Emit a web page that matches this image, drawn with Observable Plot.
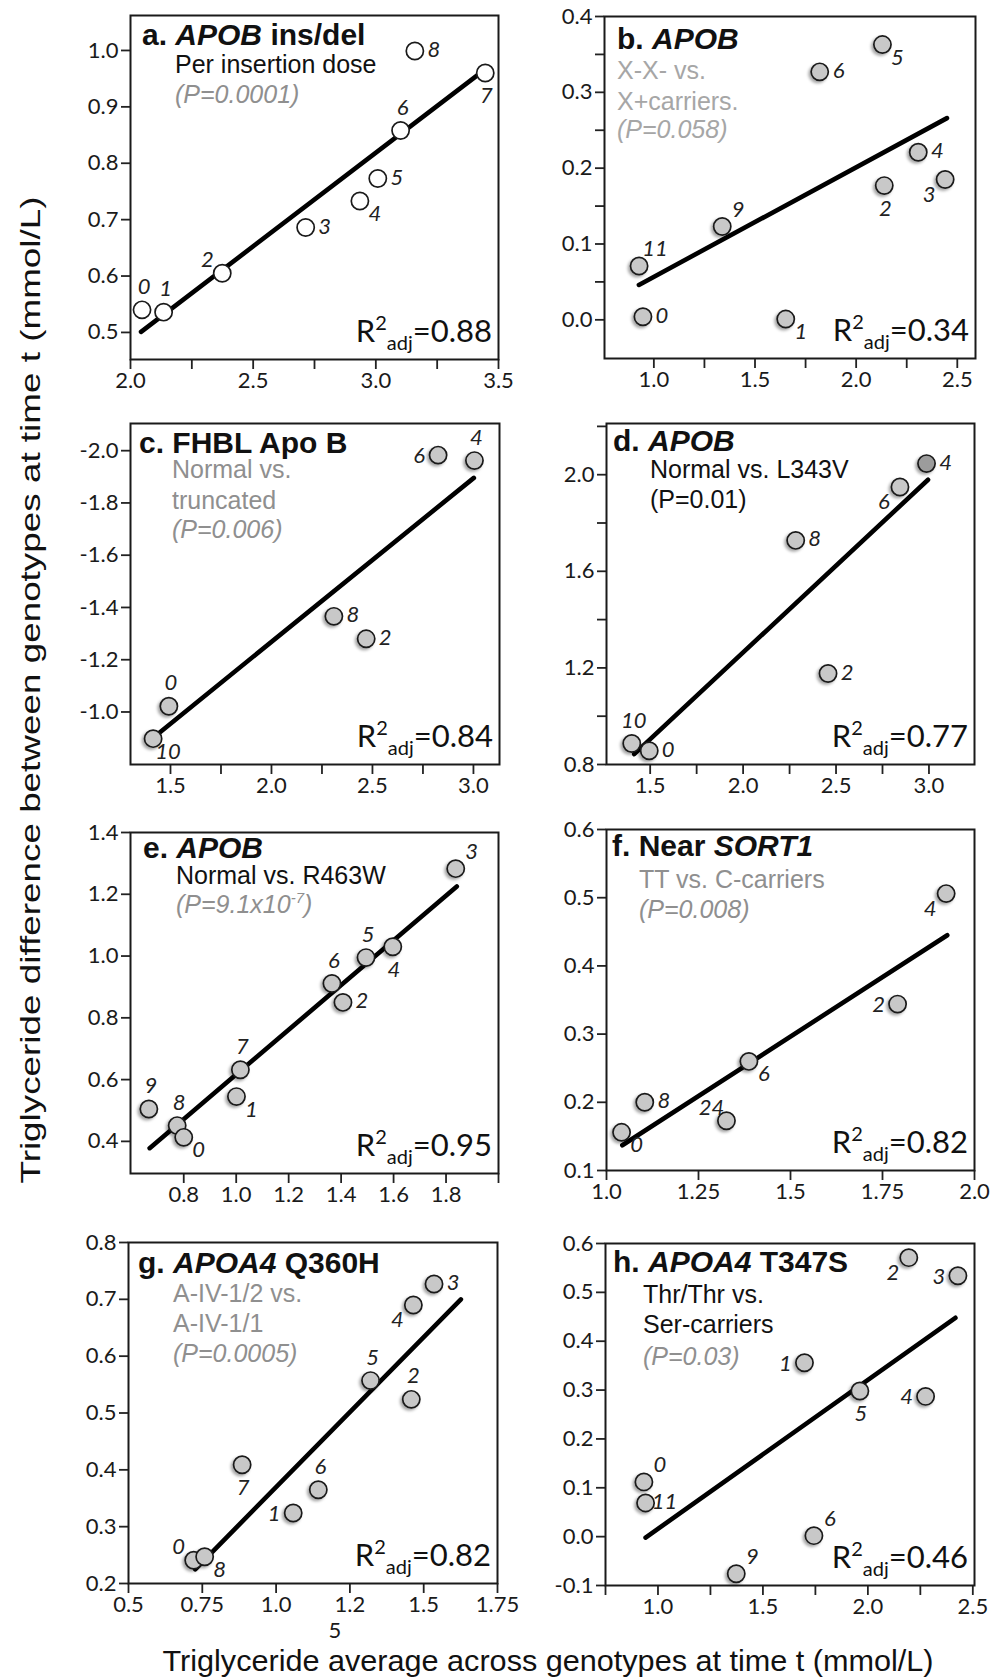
<!DOCTYPE html>
<html>
<head>
<meta charset="utf-8">
<script src="https://cdn.jsdelivr.net/npm/d3@7"></script>
<script src="https://cdn.jsdelivr.net/npm/@observablehq/plot@0.6"></script>
<style>
  html, body { margin: 0; padding: 0; background: #fff; }
  #fig { position: relative; width: 1005px; height: 1678px; overflow: hidden; background: #fff; }
  #fig svg { position: absolute; overflow: visible; }
</style>
</head>
<body>
<div id="fig"></div>
<script>
// ---------------- Data: genotype groups per panel ----------------
// a. APOB ins/del
const idsA = ["0", "1", "2", "3", "4", "5", "6", "7", "8"];
const avgA = [2.047, 2.135, 2.374, 2.714, 2.935, 3.008, 3.101, 3.446, 3.159];
const diffA = [0.540, 0.536, 0.605, 0.686, 0.733, 0.773, 0.858, 0.960, 0.999];
const fitAvgA = [2.043, 3.432];
const fitDiffA = [0.501, 0.962];

// b. APOB X-X- vs. X+ carriers
const idsB = ["0", "1", "2", "3", "4", "5", "6", "9", "11"];
const avgB = [0.946, 1.652, 2.139, 2.440, 2.307, 2.130, 1.820, 1.338, 0.927];
const diffB = [0.004, 0.001, 0.177, 0.185, 0.221, 0.363, 0.327, 0.123, 0.071];
const fitAvgB = [0.926, 2.449];
const fitDiffB = [0.046, 0.266];

// c. FHBL Apo B
const idsC = ["0", "10", "8", "2", "6", "4"];
const avgC = [1.492, 1.414, 2.309, 2.469, 2.825, 3.005];
const diffC = [-1.022, -0.898, -1.366, -1.280, -1.983, -1.962];
const fitAvgC = [1.439, 3.002];
const fitDiffC = [-0.917, -1.896];

// d. APOB L343V
const idsD = ["10", "0", "8", "2", "6", "4"];
const avgD = [1.401, 1.495, 2.283, 2.457, 2.844, 2.987];
const diffD = [0.887, 0.857, 1.728, 1.177, 1.949, 2.046];
const fitAvgD = [1.414, 2.995];
const fitDiffD = [0.843, 1.979];

// e. APOB R463W
const idsE = ["9", "8", "0", "1", "7", "6", "2", "5", "4", "3"];
const avgE = [0.667, 0.775, 0.800, 1.001, 1.016, 1.365, 1.407, 1.495, 1.597, 1.837];
const diffE = [0.505, 0.451, 0.413, 0.545, 0.632, 0.911, 0.850, 0.995, 1.030, 1.283];
const fitAvgE = [0.670, 1.841];
const fitDiffE = [0.378, 1.225];

// f. Near SORT1
const idsF = ["0", "8", "24", "6", "2", "4"];
const avgF = [1.041, 1.104, 1.326, 1.387, 1.791, 1.923];
const diffF = [0.156, 0.200, 0.173, 0.260, 0.344, 0.506];
const fitAvgF = [1.043, 1.926];
const fitDiffF = [0.137, 0.445];

// g. APOA4 Q360H
const idsG = ["0", "8", "7", "1", "6", "5", "2", "4", "3"];
const avgG = [0.721, 0.758, 0.885, 1.058, 1.143, 1.320, 1.458, 1.465, 1.535];
const diffG = [0.241, 0.247, 0.409, 0.324, 0.365, 0.557, 0.524, 0.690, 0.727];
const fitAvgG = [0.726, 1.626];
const fitDiffG = [0.225, 0.700];

// h. APOA4 T347S
const idsH = ["0", "11", "9", "6", "1", "5", "4", "2", "3"];
const avgH = [0.933, 0.941, 1.373, 1.743, 1.698, 1.962, 2.275, 2.195, 2.429];
const diffH = [0.112, 0.069, -0.076, 0.002, 0.356, 0.298, 0.287, 0.571, 0.534];
const fitAvgH = [0.941, 2.417];
const fitDiffH = [-0.002, 0.448];

// Adjusted R² per panel (a–h)
const r2adj = ["0.88", "0.34", "0.84", "0.77", "0.95", "0.82", "0.82", "0.46"];

// ---------------- Tick values and labels ----------------
const xTicksA = [2.0, 2.5, 3.0, 3.5], xTickLabelsA = ["2.0", "2.5", "3.0", "3.5"], xMinorA = [2.25, 2.75, 3.25];
const yTicksA = [0.5, 0.6, 0.7, 0.8, 0.9, 1.0], yTickLabelsA = ["0.5", "0.6", "0.7", "0.8", "0.9", "1.0"];
const xTicksB = [1.0, 1.5, 2.0, 2.5], xTickLabelsB = ["1.0", "1.5", "2.0", "2.5"], xMinorB = [1.25, 1.75, 2.25];
const yTicksB = [0.0, 0.1, 0.2, 0.3, 0.4], yTickLabelsB = ["0.0", "0.1", "0.2", "0.3", "0.4"], yMinorB = [0.05, 0.15, 0.25, 0.35];
const xTicksC = [1.5, 2.0, 2.5, 3.0], xTickLabelsC = ["1.5", "2.0", "2.5", "3.0"], xMinorC = [1.75, 2.25, 2.75];
const yTicksC = [-1.0, -1.2, -1.4, -1.6, -1.8, -2.0], yTickLabelsC = ["-1.0", "-1.2", "-1.4", "-1.6", "-1.8", "-2.0"];
const xTicksD = [1.5, 2.0, 2.5, 3.0], xTickLabelsD = ["1.5", "2.0", "2.5", "3.0"], xMinorD = [1.75, 2.25, 2.75];
const yTicksD = [0.8, 1.2, 1.6, 2.0], yTickLabelsD = ["0.8", "1.2", "1.6", "2.0"], yMinorD = [1.0, 1.4, 1.8, 2.2];
const xTicksE = [0.8, 1.0, 1.2, 1.4, 1.6, 1.8], xTickLabelsE = ["0.8", "1.0", "1.2", "1.4", "1.6", "1.8"], xMinorE = [2.0];
const yTicksE = [0.4, 0.6, 0.8, 1.0, 1.2, 1.4], yTickLabelsE = ["0.4", "0.6", "0.8", "1.0", "1.2", "1.4"];
const xTicksF = [1.0, 1.25, 1.5, 1.75, 2.0], xTickLabelsF = ["1.0", "1.25", "1.5", "1.75", "2.0"];
const yTicksF = [0.1, 0.2, 0.3, 0.4, 0.5, 0.6], yTickLabelsF = ["0.1", "0.2", "0.3", "0.4", "0.5", "0.6"];
const xTicksG = [0.5, 0.75, 1.0, 1.25, 1.5, 1.75], xTickLabelsG = ["0.5", "0.75", "1.0", "1.2", "1.5", "1.75"];
const xWrapG = "5"; // second line of the wrapped "1.25" label
const yTicksG = [0.2, 0.3, 0.4, 0.5, 0.6, 0.7, 0.8], yTickLabelsG = ["0.2", "0.3", "0.4", "0.5", "0.6", "0.7", "0.8"];
const xTicksH = [1.0, 1.5, 2.0, 2.5], xTickLabelsH = ["1.0", "1.5", "2.0", "2.5"], xMinorH = [0.75, 1.25, 1.75, 2.25];
const yTicksH = [-0.1, 0.0, 0.1, 0.2, 0.3, 0.4, 0.5, 0.6], yTickLabelsH = ["-0.1", "0.0", "0.1", "0.2", "0.3", "0.4", "0.5", "0.6"];

// ---------------- Text ----------------
const yTitle = "Triglyceride difference between genotypes at time t (mmol/L)";
const xTitle = "Triglyceride average across genotypes at time t (mmol/L)";

// ---------------- Layout ----------------
const GRAY = "#8f8f8f";
const LIGHT = "#a6a6a6";
const DOT_GRAY = "#c8c8c8";

// where each genotype label sits relative to its dot
const offsets = {
  n: [2, -23], s: [1, 23], e: [19, -1], w: [-19, 1],
  ne: [16, -17], se: [15, 13], sw: [-16, 15], nw: [-15, -13]
};

const panels = [
  {
    frame: [130, 15, 498, 359], xDomain: [2.0, 3.5], yDomain: [0.452, 1.062],
    ids: idsA, x: avgA, y: diffA, fx: fitAvgA, fy: fitDiffA, fill: "#ffffff", shadow: false,
    place: ["n", "n", "nw", "e", "se", "e", "n", "s", "e"],
    xt: [xTicksA, xTickLabelsA], xm: xMinorA, yt: [yTicksA, yTickLabelsA], ym: [],
    title: [{t: "a. "}, {t: "APOB", i: true}, {t: " ins/del"}], tpos: [12, 30],
    sub: [[{t: "Per insertion dose"}], [{t: "(P=0.0001)", i: true, c: GRAY}]], sx: 45, sy: [58, 88],
    r2: r2adj[0]
  },
  {
    frame: [604, 16, 975, 358], xDomain: [0.756, 2.59], yDomain: [-0.051, 0.4],
    ids: idsB, x: avgB, y: diffB, fx: fitAvgB, fy: fitDiffB, fill: DOT_GRAY, shadow: true,
    place: ["e", "se", "s", "sw", "e", "se", "e", "ne", "ne"],
    xt: [xTicksB, xTickLabelsB], xm: xMinorB, yt: [yTicksB, yTickLabelsB], ym: yMinorB,
    title: [{t: "b. "}, {t: "APOB", i: true}], tpos: [13, 33],
    sub: [[{t: "X-X- vs.", c: LIGHT}], [{t: "X+carriers.", c: LIGHT}], [{t: "(P=0.058)", i: true, c: LIGHT}]], sx: 13, sy: [63, 94, 122],
    r2: r2adj[1]
  },
  {
    frame: [130, 423, 499, 764], xDomain: [1.302, 3.129], yDomain: [-0.799, -2.104],
    ids: idsC, x: avgC, y: diffC, fx: fitAvgC, fy: fitDiffC, fill: DOT_GRAY, shadow: true,
    place: ["n", "se", "e", "e", "w", "n"],
    xt: [xTicksC, xTickLabelsC], xm: xMinorC, yt: [yTicksC, yTickLabelsC], ym: [],
    title: [{t: "c. FHBL Apo B"}], tpos: [9, 30],
    sub: [[{t: "Normal vs.", c: GRAY}], [{t: "truncated", c: GRAY}], [{t: "(P=0.006)", i: true, c: GRAY}]], sx: 42, sy: [55, 86, 115],
    r2: r2adj[2]
  },
  {
    frame: [606, 423, 974, 764], xDomain: [1.265, 3.245], yDomain: [0.8, 2.212],
    ids: idsD, x: avgD, y: diffD, fx: fitAvgD, fy: fitDiffD, fill: DOT_GRAY, shadow: true,
    dark: "4",
    place: ["n", "e", "e", "e", "sw", "e"],
    xt: [xTicksD, xTickLabelsD], xm: xMinorD, yt: [yTicksD, yTickLabelsD], ym: yMinorD,
    title: [{t: "d. "}, {t: "APOB", i: true}], tpos: [7, 28],
    sub: [[{t: "Normal vs. L343V"}], [{t: "(P=0.01)"}]], sx: 44, sy: [55, 85],
    r2: r2adj[3]
  },
  {
    frame: [130, 832, 498, 1173], xDomain: [0.597, 2.0], yDomain: [0.296, 1.4],
    ids: idsE, x: avgE, y: diffE, fx: fitAvgE, fy: fitDiffE, fill: DOT_GRAY, shadow: true,
    place: ["n", "n", "se", "se", "n", "n", "e", "n", "s", "ne"],
    xt: [xTicksE, xTickLabelsE], xm: xMinorE, yt: [yTicksE, yTickLabelsE], ym: [],
    title: [{t: "e. "}, {t: "APOB", i: true}], tpos: [13, 26],
    sub: [[{t: "Normal vs. R463W"}], [{t: "(P=9.1x10", i: true, c: GRAY}, {t: "-7", i: true, c: GRAY, sup: true}, {t: ")", i: true, c: GRAY, unsup: true}]], sx: 46, sy: [52, 81],
    r2: r2adj[4]
  },
  {
    frame: [606, 829, 974, 1170], xDomain: [1.0, 2.0], yDomain: [0.1, 0.6],
    ids: idsF, x: avgF, y: diffF, fx: fitAvgF, fy: fitDiffF, fill: DOT_GRAY, shadow: true,
    place: ["se", "e", "nw", "se", "w", "sw"],
    xt: [xTicksF, xTickLabelsF], xm: [], yt: [yTicksF, yTickLabelsF], ym: [],
    title: [{t: "f. Near "}, {t: "SORT1", i: true}], tpos: [6, 27],
    sub: [[{t: "TT vs. C-carriers", c: GRAY}], [{t: "(P=0.008)", i: true, c: GRAY}]], sx: 33, sy: [59, 89],
    r2: r2adj[5]
  },
  {
    frame: [128, 1242, 497, 1583], xDomain: [0.5, 1.75], yDomain: [0.2, 0.8],
    ids: idsG, x: avgG, y: diffG, fx: fitAvgG, fy: fitDiffG, fill: DOT_GRAY, shadow: true,
    place: ["nw", "se", "s", "w", "n", "n", "n", "sw", "e"],
    xt: [xTicksG, xTickLabelsG], xm: [], yt: [yTicksG, yTickLabelsG], ym: [], wrap: true,
    title: [{t: "g. "}, {t: "APOA4", i: true}, {t: " Q360H"}], tpos: [10, 31],
    sub: [[{t: "A-IV-1/2 vs.", c: GRAY}], [{t: "A-IV-1/1", c: GRAY}], [{t: "(P=0.0005)", i: true, c: GRAY}]], sx: 45, sy: [60, 90, 120],
    r2: r2adj[6]
  },
  {
    frame: [605, 1243, 974, 1585], xDomain: [0.75, 2.508], yDomain: [-0.1, 0.6],
    ids: idsH, x: avgH, y: diffH, fx: fitAvgH, fy: fitDiffH, fill: DOT_GRAY, shadow: true,
    place: ["ne", "e", "ne", "ne", "w", "s", "w", "sw", "w"],
    xt: [xTicksH, xTickLabelsH], xm: xMinorH, yt: [yTicksH, yTickLabelsH], ym: [],
    title: [{t: "h. "}, {t: "APOA4", i: true}, {t: " T347S"}], tpos: [8, 29],
    sub: [[{t: "Thr/Thr vs."}], [{t: "Ser-carriers"}], [{t: "(P=0.03)", i: true, c: GRAY}]], sx: 38, sy: [60, 90, 122],
    r2: r2adj[7]
  }
];

const fig = document.getElementById("fig");
const HEAD = "'Liberation Sans', Arial, Helvetica, sans-serif";
const NUM = "Lato, 'Open Sans', sans-serif";

// axis titles shared by all panels
const overlay = d3.select(fig).append("svg")
  .attr("width", 1005).attr("height", 1678)
  .style("left", "0px").style("top", "0px");
overlay.append("text")
  .attr("transform", "translate(33,690) rotate(-90)")
  .attr("text-anchor", "middle").attr("dominant-baseline", "middle")
  .attr("font-family", "'Liberation Sans Narrow', 'Liberation Sans', Arial, sans-serif")
  .attr("font-size", 28).attr("fill", "#111")
  .attr("textLength", 987).attr("lengthAdjust", "spacingAndGlyphs")
  .text(yTitle);
overlay.append("text")
  .attr("x", 548).attr("y", 1671)
  .attr("text-anchor", "middle")
  .attr("font-family", HEAD)
  .attr("font-size", 29).attr("fill", "#111")
  .attr("textLength", 771).attr("lengthAdjust", "spacingAndGlyphs")
  .text(xTitle);

function labeller(values, labels) {
  return d => {
    const i = values.findIndex(v => Math.abs(v - d) < 1e-9);
    return i < 0 ? "" : labels[i];
  };
}

function drawPanel(p) {
  const mL = 70, mR = 16, mT = 16, mB = p.wrap ? 80 : 50;
  const W = p.frame[2] - p.frame[0], H = p.frame[3] - p.frame[1];
  const pts = p.ids.map((id, i) => ({id, x: p.x[i], y: p.y[i], pos: p.place[i]}));
  const fit = p.fx.map((x, i) => ({x, y: p.fy[i]}));

  const marks = [];
  if (p.ym.length) marks.push(Plot.axisY(p.ym, {tickSize: 9, tickFormat: () => "", strokeWidth: 1.8, stroke: "#222", label: null}));
  marks.push(Plot.axisY(p.yt[0], {tickSize: 9, tickPadding: 3, tickFormat: labeller(p.yt[0], p.yt[1]), fontSize: 22, fill: "#1a1a1a", strokeWidth: 1.8, stroke: "#222", label: null}));
  if (p.xm.length) marks.push(Plot.axisX(p.xm, {tickSize: 10, tickFormat: () => "", strokeWidth: 1.8, stroke: "#222", label: null}));
  marks.push(Plot.axisX(p.xt[0], {tickSize: 10, tickPadding: 3, tickFormat: labeller(p.xt[0], p.xt[1]), fontSize: 22, fill: "#1a1a1a", strokeWidth: 1.8, stroke: "#222", label: null}));
  if (p.wrap) {
    marks.push(Plot.text([1.25], {x: d => d, frameAnchor: "bottom", dy: 54, dx: -15, text: () => xWrapG, fontSize: 22, fill: "#1a1a1a"}));
  }
  marks.push(Plot.frame({stroke: "#1a1a1a", strokeWidth: 2}));
  marks.push(Plot.line(fit, {x: "x", y: "y", stroke: "#000", strokeWidth: 4.6}));
  marks.push(Plot.dot(pts, {
    x: "x", y: "y", r: 8.6,
    fill: d => (p.dark && d.id === p.dark) ? "#9c9c9c" : p.fill,
    stroke: "#1a1a1a", strokeWidth: 1.7
  }));
  for (const [k, [dx, dy]] of Object.entries(offsets)) {
    const sel = pts.filter(d => d.pos === k);
    if (!sel.length) continue;
    marks.push(Plot.text(sel, {
      x: "x", y: "y", text: "id", dx, dy,
      fontSize: 22, fontStyle: "italic", fill: "#222",
      textAnchor: "middle", lineAnchor: "middle"
    }));
  }

  const svg = Plot.plot({
    width: W + mL + mR, height: H + mT + mB,
    marginLeft: mL, marginRight: mR, marginTop: mT, marginBottom: mB,
    x: {domain: p.xDomain}, y: {domain: p.yDomain},
    style: {background: "transparent", fontFamily: NUM, overflow: "visible"},
    marks
  });
  svg.style.left = (p.frame[0] - mL) + "px";
  svg.style.top = (p.frame[1] - mT) + "px";
  fig.appendChild(svg);

  const s = d3.select(svg);
  if (p.shadow) {
    s.selectAll('g[aria-label="dot"]').style("filter", "drop-shadow(-1.5px 2px 1.5px rgba(0,0,0,0.35))");
  }

  // panel title
  const t = s.append("text")
    .attr("x", mL + p.tpos[0]).attr("y", mT + p.tpos[1])
    .attr("text-anchor", "start")
    .attr("font-family", HEAD).attr("font-size", 30).attr("font-weight", "bold").attr("fill", "#111");
  for (const part of p.title) {
    const sp = t.append("tspan").text(part.t);
    if (part.i) sp.attr("font-style", "italic");
  }
  // description lines
  p.sub.forEach((line, li) => {
    const tx = s.append("text")
      .attr("x", mL + p.sx).attr("y", mT + p.sy[li])
      .attr("text-anchor", "start")
      .attr("font-family", HEAD).attr("font-size", 25).attr("fill", "#111");
    for (const part of line) {
      const sp = tx.append("tspan").text(part.t);
      if (part.i) sp.attr("font-style", "italic");
      if (part.c) sp.attr("fill", part.c);
      if (part.sup) sp.attr("font-size", 15).attr("dy", -10);
      if (part.unsup) sp.attr("dy", 10);
    }
  });
  // adjusted R²
  const r = s.append("text")
    .attr("x", mL + W - 6).attr("y", mT + H - 17)
    .attr("text-anchor", "end")
    .attr("font-family", NUM).attr("font-size", 31).attr("fill", "#111");
  r.append("tspan").text("R");
  r.append("tspan").text("2").attr("font-size", 20).attr("dy", -12);
  r.append("tspan").text("adj").attr("font-size", 20).attr("dy", 20);
  r.append("tspan").text("=" + p.r2).attr("dy", -8);
}

panels.forEach(drawPanel);
</script>
</body>
</html>
